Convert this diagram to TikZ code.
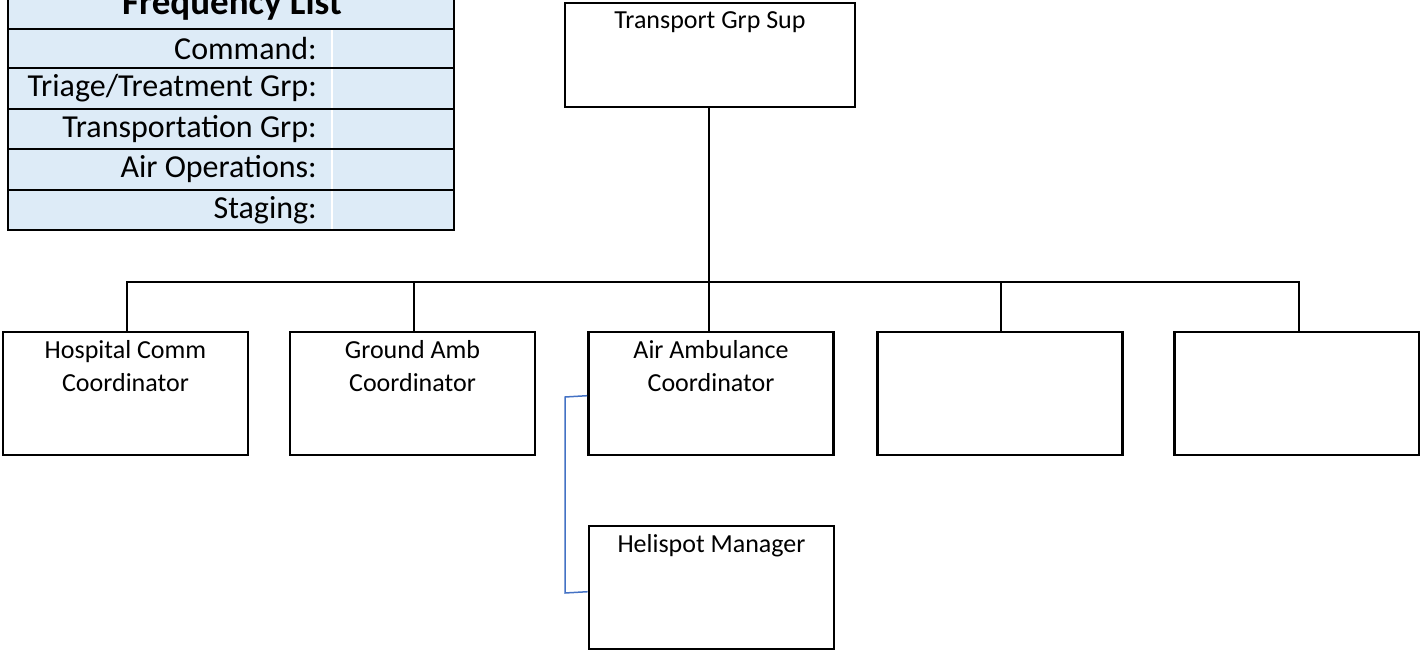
\documentclass[tikz,border=0pt]{standalone}
\usepackage{fontspec}
\setmainfont{Carlito}
\usetikzlibrary{calc}
\definecolor{tblue}{HTML}{DDEBF7}
\definecolor{lineblue}{HTML}{4472C4}
\tikzset{
  box/.style={draw=black, line width=2.6pt, minimum width=245pt, minimum height=123pt, inner sep=0pt, fill=white},
  boxtext/.style={anchor=north, align=center, font=\fontsize{26}{33}\selectfont, inner sep=2pt, label distance=-8pt},
  conn/.style={draw=black, line width=2.6pt},
  rowtext/.style={anchor=east, font=\fontsize{32}{36}\selectfont, inner sep=0pt},
}
\begin{document}
\begin{tikzpicture}[x=1pt,y=-1pt]
\useasboundingbox (0,0) rectangle (1420,652);
\clip (0,0) rectangle (1420,652);
% frequency table
\fill[tblue] (8,-40) rectangle (454,230);
\draw[white, line width=2pt] (332,29) -- (332,230);
\foreach \yy in {29,68,109,149,190}{\draw[black, line width=2.6pt] (8,\yy) -- (454,\yy);}
\draw[black, line width=2.6pt] (8,-40) rectangle (454,230);
\node[anchor=base, font=\bfseries\fontsize{37}{40}\selectfont, inner sep=0pt] (title) at (232,15) {Frequency List};
\node[rowtext] (r1) at (317,48.5) {Command:};
\node[rowtext] (r2) at (317,88.5) {Triage/Treatment Grp:};
\node[rowtext] (r3) at (317,129) {Transportation Grp:};
\node[rowtext] (r4) at (317,169.5) {Air Operations:};
\node[rowtext] (r5) at (317,210) {Staging:};
% boxes
\node[box, minimum width=290pt, minimum height=104pt, label={[boxtext]north:Transport Grp Sup}] (sup) at (710,55) {};
\node[box, label={[boxtext]north:Hospital Comm\\Coordinator}] (hosp) at (125.5,393.5) {};
\node[box, label={[boxtext]north:Ground Amb\\Coordinator}] (ground) at (412.5,393.5) {};
\node[box, label={[boxtext]north:Air Ambulance\\Coordinator}] (air) at (711,393.5) {};
\node[box] (b4) at (1000,393.5) {};
\node[box] (b5) at (1297,393.5) {};
\node[box, label={[boxtext]north:Helispot Manager}] (heli) at (711.5,587.5) {};
% connectors
\coordinate (barl) at (127,282);
\coordinate (barr) at (1299,282);
\draw[conn] (sup.south -| 709,0) -- (709,282);
\draw[conn] (hosp.north -| barl) -- (barl) -- (barr) -- (b5.north -| barr);
\draw[conn] (ground.north -| 414,0) -- (414,282);
\draw[conn] (air.north -| 709,0) -- (709,282);
\draw[conn] (b4.north -| 1001,0) -- (1001,282);
\coordinate (airl) at ($(air.north west)+(0,65)$);
\coordinate (helil) at ($(heli.north west)+(0,67)$);
\draw[lineblue, line width=1.5pt] (airl) -- (565,397) -- (565,593) -- (helil);
\end{tikzpicture}
\end{document}
